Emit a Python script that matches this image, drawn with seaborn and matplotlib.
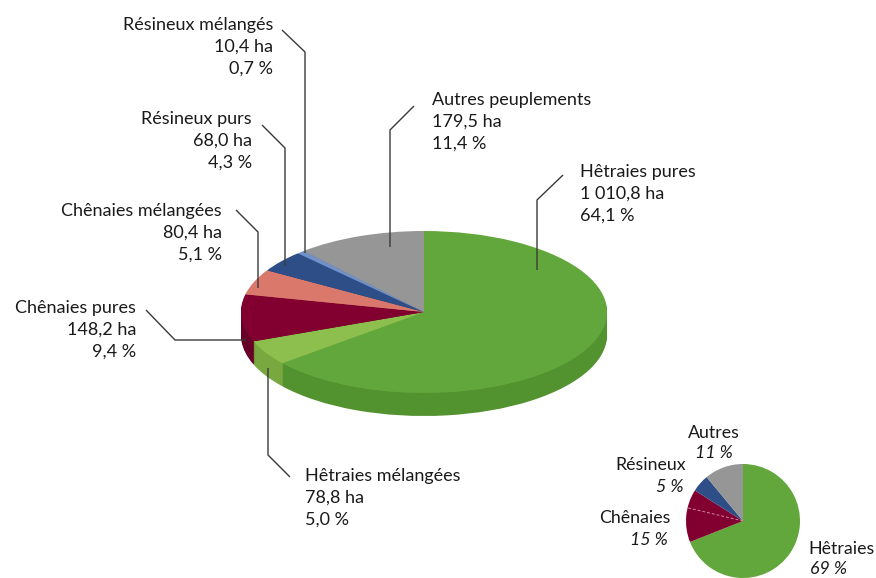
import matplotlib
matplotlib.use("Agg")
import numpy as np
import matplotlib.pyplot as plt
import matplotlib.transforms as mtransforms
import seaborn as sns

sns.set_theme(style="white")
plt.rcParams['font.family'] = ['Lato', 'DejaVu Sans']

# ---- data ----
categories = ["Hêtraies pures", "Hêtraies mélangées", "Chênaies pures",
              "Chênaies mélangées", "Résineux purs", "Résineux mélangés",
              "Autres peuplements"]
surfaces = ["1 010,8 ha", "78,8 ha", "148,2 ha", "80,4 ha", "68,0 ha", "10,4 ha", "179,5 ha"]
percents = [64.1, 5.0, 9.4, 5.1, 4.3, 0.7, 11.4]
pct_labels = ["64,1 %", "5,0 %", "9,4 %", "5,1 %", "4,3 %", "0,7 %", "11,4 %"]

small_categories = ["Hêtraies", "Chênaies", "Résineux", "Autres"]
small_percents = [69, 15, 5, 11]
small_labels = ["69 %", "15 %", "5 %", "11 %"]

top_colors = ["#62A73B", "#8DBF4E", "#820030", "#D9786B", "#2D4E86", "#7090C8", "#969696"]
side_colors = ["#52922F", "#78A83F", "#660026", "#B8625A", "#233E6C", "#5A75A8", "#7A7A7A"]
small_colors = ["#62A73B", "#820030", "#2D4E86", "#969696"]

W, H = 876, 578
fig = plt.figure(figsize=(W / 100, H / 100), dpi=100)
ax = fig.add_axes([0, 0, 1, 1])

def Y(y):
    return H - y

cx, cy = 424, Y(312)
R = 183
k = 81 / 183
depth = 23

def squash(dy=0.0):
    return (mtransforms.Affine2D().translate(-cx, -cy).scale(1, k)
            .translate(cx, cy - dy) + ax.transData)

# side layers
for d in range(depth, 0, -1):
    wedges, _ = ax.pie(percents, colors=side_colors, startangle=90, counterclock=False,
                       center=(cx, cy), radius=R, frame=True,
                       wedgeprops=dict(linewidth=0, antialiased=True))
    for w in wedges:
        w.set_transform(squash(d))

# top face
wedges, _ = ax.pie(percents, colors=top_colors, startangle=90, counterclock=False,
                   center=(cx, cy), radius=R, frame=True,
                   wedgeprops=dict(linewidth=0, antialiased=True))
for w in wedges:
    w.set_transform(squash(0))

line_kw = dict(color="#3a3a3a", lw=1.0, solid_capstyle='butt')
fs = 13
lh = 21.8

def label(x, y, lines, ha):
    for i, t in enumerate(lines):
        ax.text(x, Y(y + i * lh), t, ha=ha, va='center', fontsize=fs, color="#1a1a1a")

def leader(pts):
    xs = [p[0] for p in pts]
    ys = [Y(p[1]) for p in pts]
    ax.plot(xs, ys, **line_kw)

label(273, 25, [categories[5], surfaces[5], pct_labels[5]], 'right')
leader([(282, 30), (305, 52), (305, 253)])

label(252, 119, [categories[4], surfaces[4], pct_labels[4]], 'right')
leader([(262, 125), (285, 148), (285, 266)])

label(222, 211, [categories[3], surfaces[3], pct_labels[3]], 'right')
leader([(236, 210), (258, 232), (258, 288)])

label(136, 308, [categories[2], surfaces[2], pct_labels[2]], 'right')
leader([(146, 310), (175, 340), (246, 340)])

label(305, 476, [categories[1], surfaces[1], pct_labels[1]], 'left')
leader([(268, 368), (268, 455), (290, 477)])

label(432, 100, [categories[6], surfaces[6], pct_labels[6]], 'left')
leader([(390, 247), (390, 130), (414, 106)])

label(580, 172, [categories[0], surfaces[0], pct_labels[0]], 'left')
leader([(537, 270), (537, 200), (563, 175)])

# small pie
scx, scy, sr = 743, Y(521), 57
sw, _ = ax.pie(small_percents, colors=small_colors, startangle=90, counterclock=False,
               center=(scx, scy), radius=sr, frame=True,
               wedgeprops=dict(linewidth=0))
# faint dashed split inside Chênaies (pures / mélangées)
split = small_percents[0] + small_percents[1] * percents[2] / (percents[2] + percents[3])
ang = np.deg2rad(90 - split / 100 * 360)
ax.plot([scx, scx + sr * np.cos(ang)], [scy, scy + sr * np.sin(ang)],
        color="#d08a9a", lw=0.7, ls=(0, (3, 2)))

sfs = 12.8
tc = "#1a1a1a"
ax.text(714, Y(433), small_categories[3], ha='center', va='center', fontsize=sfs, color=tc)
ax.text(714, Y(453), small_labels[3], ha='center', va='center', fontsize=sfs, style='italic', color=tc)
ax.text(686, Y(465), small_categories[2], ha='right', va='center', fontsize=sfs, color=tc)
ax.text(684, Y(487), small_labels[2], ha='right', va='center', fontsize=sfs, style='italic', color=tc)
ax.text(670, Y(518), small_categories[1], ha='right', va='center', fontsize=sfs, color=tc)
ax.text(668, Y(540), small_labels[1], ha='right', va='center', fontsize=sfs, style='italic', color=tc)
ax.text(808, Y(549), small_categories[0], ha='left', va='center', fontsize=sfs, color=tc)
ax.text(810, Y(569), small_labels[0], ha='left', va='center', fontsize=sfs, style='italic', color=tc)

ax.set_xlim(0, W)
ax.set_ylim(0, H)
ax.set_aspect('equal')
ax.axis('off')

fig.savefig("out.png", dpi=100, facecolor="white")
